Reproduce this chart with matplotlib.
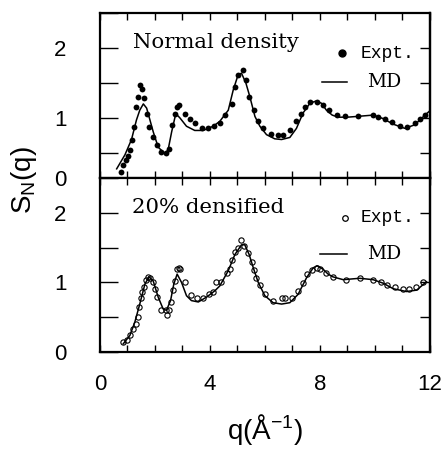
import numpy as np
import matplotlib
matplotlib.use('Agg')
import matplotlib.pyplot as plt
from matplotlib.ticker import MultipleLocator

plt.rcParams['font.family'] = ['Liberation Sans', 'DejaVu Sans']
plt.rcParams['mathtext.default'] = 'regular'

# Normal density: MD curve
md1_q = [0.61, 0.91, 1.15, 1.33, 1.45, 1.58, 1.70, 1.82, 1.94, 2.12, 2.36, 2.48, 2.61, 2.76,
         2.91, 3.15, 3.45, 3.76, 4.12, 4.36, 4.67, 4.85, 5.03, 5.15, 5.31, 5.45, 5.64, 5.82,
         6.06, 6.36, 6.61, 6.91, 7.15, 7.39, 7.64, 7.85, 8.06, 8.24, 8.45, 8.67, 9.0, 9.33,
         9.94, 10.3, 10.67, 11.09, 11.45, 11.88, 12.0]
md1_s = [0.27, 0.47, 0.69, 0.97, 1.11, 1.2, 1.14, 0.97, 0.8, 0.58, 0.49, 0.54, 0.8, 1.06,
         1.0, 0.88, 0.82, 0.82, 0.88, 0.95, 1.11, 1.4, 1.62, 1.64, 1.5, 1.31, 1.02, 0.88,
         0.76, 0.7, 0.69, 0.72, 0.85, 1.07, 1.21, 1.24, 1.21, 1.11, 1.04, 1.01, 1.01, 1.02,
         1.04, 0.99, 0.91, 0.85, 0.9, 1.06, 1.1]
# Normal density: experiment
ex1_q = [0.75, 0.85, 0.95, 1.03, 1.09, 1.18, 1.25, 1.31, 1.37, 1.45, 1.54, 1.61, 1.70, 1.79,
         1.92, 2.06, 2.22, 2.40, 2.52, 2.64, 2.73, 2.81, 2.88, 3.09, 3.27, 3.45, 3.70, 3.94,
         4.15, 4.36, 4.55, 4.79, 4.93, 5.03, 5.19, 5.33, 5.43, 5.60, 5.76, 5.94, 6.24, 6.48,
         6.67, 6.91, 7.13, 7.31, 7.45, 7.66, 7.88, 8.12, 8.34, 8.61, 8.91, 9.39, 9.92, 10.12,
         10.36, 10.61, 10.91, 11.18, 11.45, 11.64, 11.82]
ex1_s = [0.23, 0.32, 0.39, 0.46, 0.54, 0.68, 0.87, 1.16, 1.30, 1.47, 1.42, 1.28, 1.06, 0.87,
         0.73, 0.61, 0.51, 0.49, 0.56, 0.90, 1.06, 1.16, 1.18, 1.06, 0.99, 0.93, 0.85, 0.85,
         0.88, 0.93, 1.04, 1.20, 1.44, 1.61, 1.69, 1.54, 1.30, 1.11, 0.95, 0.85, 0.77, 0.76,
         0.76, 0.83, 0.95, 1.06, 1.16, 1.23, 1.23, 1.18, 1.11, 1.04, 1.02, 1.02, 1.04, 1.01,
         0.98, 0.94, 0.88, 0.87, 0.92, 0.98, 1.04]

# 20% densified: MD curve
md2_q = [0.85, 1.09, 1.27, 1.45, 1.64, 1.79, 1.94, 2.12, 2.30, 2.42, 2.57, 2.69, 2.81, 2.97,
         3.15, 3.33, 3.58, 3.88, 4.18, 4.36, 4.67, 4.91, 5.15, 5.27, 5.43, 5.58, 5.76, 6.0,
         6.30, 6.61, 6.91, 7.21, 7.52, 7.76, 7.90, 8.12, 8.30, 8.48, 8.85, 9.45, 9.94, 10.30,
         10.67, 11.15, 11.52, 11.88]
md2_s = [0.12, 0.24, 0.43, 0.69, 0.98, 1.08, 1.02, 0.79, 0.62, 0.6, 0.74, 0.98, 1.12, 1.0,
         0.81, 0.74, 0.72, 0.79, 0.88, 0.95, 1.17, 1.4, 1.54, 1.54, 1.4, 1.21, 1.0, 0.81,
         0.71, 0.69, 0.71, 0.83, 1.07, 1.21, 1.24, 1.19, 1.12, 1.08, 1.04, 1.06, 1.04, 0.99,
         0.91, 0.87, 0.89, 1.01]
# 20% densified: experiment
ex2_q = [0.85, 0.97, 1.09, 1.21, 1.31, 1.37, 1.43, 1.48, 1.54, 1.60, 1.67, 1.76, 1.84, 1.92,
         2.0, 2.06, 2.22, 2.40, 2.45, 2.52, 2.58, 2.67, 2.73, 2.81, 2.88, 2.93, 3.11, 3.30,
         3.52, 3.76, 3.98, 4.10, 4.22, 4.40, 4.61, 4.73, 4.82, 4.93, 5.01, 5.12, 5.24, 5.39,
         5.52, 5.60, 5.67, 5.82, 6.00, 6.30, 6.61, 6.73, 6.97, 7.19, 7.37, 7.54, 7.70, 7.88,
         8.0, 8.22, 8.48, 8.95, 9.45, 9.94, 10.21, 10.46, 10.73, 11.01, 11.25, 11.49, 11.76]
ex2_s = [0.14, 0.18, 0.25, 0.33, 0.41, 0.51, 0.65, 0.77, 0.87, 0.94, 1.03, 1.08, 1.07, 1.0,
         0.90, 0.79, 0.60, 0.60, 0.53, 0.61, 0.72, 0.89, 1.02, 1.20, 1.21, 1.20, 1.01, 0.82,
         0.77, 0.77, 0.83, 0.87, 1.01, 1.01, 1.13, 1.20, 1.32, 1.44, 1.50, 1.61, 1.52, 1.42,
         1.30, 1.18, 1.07, 0.96, 0.83, 0.73, 0.77, 0.77, 0.78, 0.88, 0.99, 1.12, 1.18, 1.21,
         1.19, 1.14, 1.08, 1.04, 1.06, 1.03, 1.0, 0.96, 0.93, 0.90, 0.90, 0.93, 1.0]

fig = plt.figure(figsize=(4.44, 4.55), dpi=100)
ax1 = fig.add_axes([0.225, 0.609, 0.743, 0.362])
ax2 = fig.add_axes([0.225, 0.226, 0.743, 0.383])

serif = ['DejaVu Serif']
mono = ['Liberation Mono', 'DejaVu Sans Mono']


def style(ax, ylo):
    ax.set_xlim(0, 12)
    ax.set_ylim(ylo, 2.5)
    for sp in ax.spines.values():
        sp.set_linewidth(1.6)
    ax.xaxis.set_major_locator(MultipleLocator(4))
    ax.xaxis.set_minor_locator(MultipleLocator(1))
    ax.yaxis.set_minor_locator(MultipleLocator(0.5))
    ax.tick_params(axis='x', which='both', direction='in', top=True, bottom=True,
                   length=5, width=1)
    ax.tick_params(axis='y', which='both', direction='in', left=True, right=False,
                   length=13, width=1, labelsize=16, pad=24)
    ax.tick_params(axis='x', labelsize=16, pad=16)
    sec = ax.secondary_yaxis('right')
    sec.set_yticks([0.5, 1, 1.5, 2])
    sec.tick_params(direction='in', length=7, width=1, labelright=False)
    sec.spines['right'].set_linewidth(1.6)


style(ax1, 0.14)
style(ax2, 0.0)

ax1.plot(md1_q, md1_s, color='black', lw=1.1)
ax1.plot(ex1_q, ex1_s, 'o', color='black', ms=4.2, mew=0)
ax1.set_yticks([0.14, 1, 2])
ax1.set_yticklabels(['0', '1', '2'])
ax1.tick_params(axis='x', labelbottom=False)
ax1.text(0.1, 0.82, 'Normal density', transform=ax1.transAxes, family=serif,
         fontsize=15.3, va='center', ha='left')
ax1.plot([0.733], [0.758], 'o', color='black', ms=5, transform=ax1.transAxes)
ax1.text(0.79, 0.758, 'Expt.', transform=ax1.transAxes, family=mono, fontsize=13,
         va='center', ha='left')
ax1.plot([0.673, 0.748], [0.582, 0.582], color='black', lw=1.1, transform=ax1.transAxes)
ax1.text(0.81, 0.582, 'MD', transform=ax1.transAxes, family=serif, fontsize=13.5,
         va='center', ha='left')

ax2.plot(md2_q, md2_s, color='black', lw=1.1)
ax2.plot(ex2_q, ex2_s, 'o', mfc='none', mec='black', ms=3.8, mew=0.8)
ax2.set_yticks([0, 1, 2])
ax2.set_yticklabels(['0', '1', '2'])
ax2.set_xticks([0, 4, 8, 12])
ax2.text(0.097, 0.83, '20% densified', transform=ax2.transAxes, family=serif,
         fontsize=15.3, va='center', ha='left')
ax2.plot([0.742], [0.77], 'o', mfc='none', mec='black', ms=4, mew=0.9,
         transform=ax2.transAxes)
ax2.text(0.79, 0.77, 'Expt.', transform=ax2.transAxes, family=mono, fontsize=13,
         va='center', ha='left')
ax2.plot([0.667, 0.748], [0.563, 0.563], color='black', lw=1.1, transform=ax2.transAxes)
ax2.text(0.81, 0.563, 'MD', transform=ax2.transAxes, family=serif, fontsize=13.5,
         va='center', ha='left')

ax2.set_xlabel('q(Å$^{-1}$)', fontsize=20, labelpad=12)
fig.text(0.055, 0.605, 'S$_N$(q)', rotation=90, fontsize=20, ha='center', va='center')

fig.savefig('out.png', dpi=100)
